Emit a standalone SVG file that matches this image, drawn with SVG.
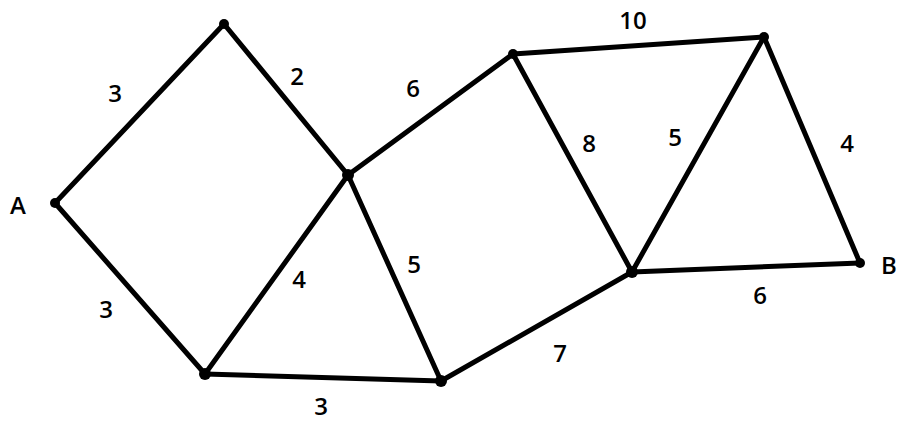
<svg xmlns="http://www.w3.org/2000/svg" width="899" height="421" viewBox="0 0 899 421">
<style>
.e{stroke:#000;stroke-width:5;stroke-linecap:round;fill:none}
.n{fill:#000}
text{font-family:"Open Sans","Liberation Sans",sans-serif;font-weight:600;font-size:24px;fill:#000;text-anchor:middle}
</style>
<rect width="899" height="421" fill="#fff"/>
<g id="connectors">
<line class="e" x1="55" y1="203" x2="224" y2="24"/>
<line class="e" x1="224" y1="24" x2="348" y2="175"/>
<line class="e" x1="55" y1="203" x2="205" y2="374"/>
<line class="e" x1="205" y1="374" x2="348" y2="175"/>
<line class="e" x1="348" y1="175" x2="441" y2="381"/>
<line class="e" x1="205" y1="374" x2="441" y2="381"/>
<line class="e" x1="348" y1="175" x2="513" y2="54"/>
<line class="e" x1="513" y1="54" x2="764" y2="37"/>
<line class="e" x1="513" y1="54" x2="632" y2="272"/>
<line class="e" x1="764" y1="37" x2="632" y2="272"/>
<line class="e" x1="764" y1="37" x2="860" y2="263"/>
<line class="e" x1="632" y1="272" x2="860" y2="263"/>
<line class="e" x1="441" y1="381" x2="632" y2="272"/>
</g>
<g id="nodeA"><circle class="n" cx="55" cy="203" r="5"/><text x="18" y="214">A</text></g>
<g id="nodeTL"><circle class="n" cx="224" cy="24" r="5"/></g>
<g id="nodeC"><circle class="n" cx="348" cy="175" r="6"/></g>
<g id="nodeBL"><circle class="n" cx="205" cy="374" r="6"/></g>
<g id="nodeBM"><circle class="n" cx="441" cy="381" r="6"/></g>
<g id="nodeTM"><circle class="n" cx="513" cy="54" r="5"/></g>
<g id="nodeTR"><circle class="n" cx="764" cy="37" r="5"/></g>
<g id="nodeMR"><circle class="n" cx="632" cy="272" r="6"/></g>
<g id="nodeB"><circle class="n" cx="860" cy="263" r="5"/><text x="889" y="274">B</text></g>
<g id="labels">
<text x="115" y="102">3</text>
<text x="297" y="85">2</text>
<text x="413" y="97">6</text>
<text x="633" y="29">10</text>
<text x="589" y="152">8</text>
<text x="675" y="146">5</text>
<text x="847" y="152">4</text>
<text x="106" y="318">3</text>
<text x="299" y="288">4</text>
<text x="414" y="273">5</text>
<text x="321" y="415">3</text>
<text x="560" y="362">7</text>
<text x="760" y="304">6</text>
</g>
</svg>
